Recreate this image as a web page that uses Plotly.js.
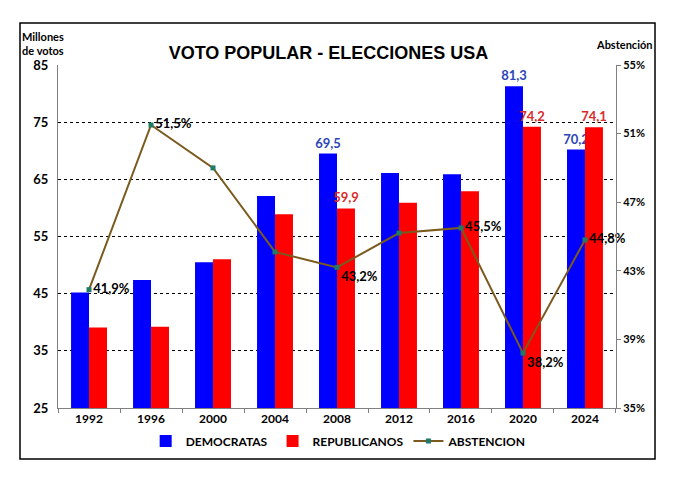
<!DOCTYPE html>
<html>
<head>
<meta charset="utf-8">
<script src="https://cdn.plot.ly/plotly-3.0.1.min.js"></script>
<style>
  html, body { margin: 0; padding: 0; background: #fff; }
  #chart { width: 696px; height: 488px; }
</style>
</head>
<body>
<div id="chart"></div>
<script>
  const years = ['1992', '1996', '2000', '2004', '2008', '2012', '2016', '2020', '2024'];
  const democratas = [45.2, 47.4, 50.5, 62.1, 69.5, 66.1, 65.9, 81.3, 70.2];
  const republicanos = [39.1, 39.2, 51.0, 58.9, 59.9, 60.9, 62.9, 74.2, 74.1];
  const abstencion = [41.9, 51.5, 49.0, 44.1, 43.2, 45.2, 45.5, 38.2, 44.8];

  // which points carry a data label in the original
  const labelDem = ['2008', '2020', '2024'];
  const labelRep = ['2008', '2020', '2024'];
  const labelAbs = ['1992', '1996', '2008', '2016', '2020', '2024'];
  const absBelow = ['2008', '2020'];

  const fmt = v => v.toFixed(1).replace('.', ',');

  const demText = democratas.map((v, i) => labelDem.includes(years[i]) ? fmt(v) : '');
  const repText = republicanos.map((v, i) => labelRep.includes(years[i]) ? fmt(v) : '');
  const absText = abstencion.map((v, i) => labelAbs.includes(years[i]) ? fmt(v) + '%' : '');
  const absPos = years.map(y => absBelow.includes(y) ? 'bottom right' : 'middle right');

  const labelFont = {family: 'Lato, sans-serif', size: 13, weight: 'bold'};

  const data = [
    {
      type: 'bar', name: 'DEMOCRATAS', x: years, y: democratas,
      marker: {color: '#0000FF'},
      text: demText, textposition: 'outside', cliponaxis: false, constraintext: 'none',
      textfont: Object.assign({}, labelFont, {color: '#2B45B8'}),
      hoverinfo: 'skip'
    },
    {
      type: 'bar', name: 'REPUBLICANOS', x: years, y: republicanos,
      marker: {color: '#FF0000'},
      text: repText, textposition: 'outside', cliponaxis: false, constraintext: 'none',
      textfont: Object.assign({}, labelFont, {color: '#D92B2B'}),
      hoverinfo: 'skip'
    },
    {
      type: 'scatter', name: 'ABSTENCION', x: years, y: abstencion, yaxis: 'y2',
      mode: 'lines+markers+text',
      line: {color: '#7A5A1E', width: 2},
      marker: {symbol: 'square', size: 5, color: '#1F7A66'},
      text: absText, textposition: absPos, cliponaxis: false,
      textfont: Object.assign({}, labelFont, {color: '#000'}),
      hoverinfo: 'skip'
    }
  ];

  const tickFont = {family: 'Lato, sans-serif', size: 13, color: '#000', weight: 'bold'};

  const layout = {
    width: 696, height: 488,
    margin: {l: 58, r: 80, t: 65, b: 80},
    paper_bgcolor: '#fff', plot_bgcolor: '#fff',
    barmode: 'group', bargap: 0.42, bargroupgap: 0,
    showlegend: true,
    title: {
      text: 'VOTO POPULAR - ELECCIONES USA',
      font: {family: 'Liberation Sans, Arial, sans-serif', size: 18, color: '#000', weight: 'bold'},
      x: 0.472, xanchor: 'center', y: 0.891, yanchor: 'middle'
    },
    xaxis: {
      type: 'category',
      showline: true, linecolor: '#808080', linewidth: 1,
      ticks: 'outside', tickson: 'boundaries', ticklen: 4, tickcolor: '#808080',
      tickfont: Object.assign({}, tickFont, {size: 12}),
      showgrid: false
    },
    yaxis: {
      range: [25, 85], dtick: 10, tick0: 25,
      showline: true, linecolor: '#808080', linewidth: 1,
      showgrid: true, gridcolor: '#000', gridwidth: 1, griddash: '3px,3px',
      zeroline: false, ticks: '', ticklabelstandoff: 6,
      tickfont: tickFont
    },
    yaxis2: {
      overlaying: 'y', side: 'right',
      range: [35, 55], dtick: 4, tick0: 35, ticksuffix: '%',
      showline: true, linecolor: '#808080', linewidth: 1,
      showgrid: false, zeroline: false,
      ticks: 'outside', ticklen: 4, tickcolor: '#808080',
      tickfont: Object.assign({}, tickFont, {size: 11})
    },
    legend: {
      orientation: 'h', x: 0.503, xanchor: 'center', y: -0.096, yanchor: 'middle',
      font: {family: 'Lato, sans-serif', size: 12, color: '#000', weight: 'bold'},
      traceorder: 'normal', itemwidth: 30
    },
    annotations: [
      {
        xref: 'paper', yref: 'paper', x: -0.026, y: 1.062, xanchor: 'center', yanchor: 'middle',
        text: 'Millones<br>de votos', showarrow: false, align: 'center',
        font: {family: 'Lato, sans-serif', size: 11, color: '#000', weight: 'bold'}
      },
      {
        xref: 'paper', yref: 'paper', x: 1.015, y: 1.061, xanchor: 'center', yanchor: 'middle',
        text: 'Abstención', showarrow: false,
        font: {family: 'Lato, sans-serif', size: 11, color: '#000', weight: 'bold'}
      }
    ],
    shapes: [
      {
        type: 'rect', xref: 'paper', yref: 'paper',
        x0: -0.0681, x1: 1.0699, y0: -0.1487, y1: 1.1224,
        line: {color: '#000', width: 1.5}, fillcolor: 'rgba(0,0,0,0)'
      }
    ]
  };

  Plotly.newPlot('chart', data, layout, {displayModeBar: false, staticPlot: true});
</script>
</body>
</html>
